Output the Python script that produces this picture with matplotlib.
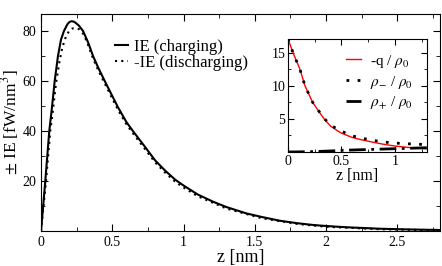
import numpy as np
import matplotlib.pyplot as plt
from matplotlib.ticker import MultipleLocator

plt.rcParams['font.family'] = ['Liberation Serif', 'DejaVu Serif']
plt.rcParams['mathtext.fontset'] = 'stix'

# main panel: interaction energy vs z
z_charge = [0, 0.03, 0.058, 0.075, 0.096, 0.119, 0.14, 0.161, 0.185, 0.2, 0.213, 0.227, 0.24,
            0.265, 0.295, 0.33, 0.365, 0.4, 0.447, 0.5, 0.54, 0.6, 0.65, 0.729, 0.8, 0.87,
            0.94, 1.0, 1.1, 1.208, 1.3, 1.443, 1.55, 1.676, 1.8, 1.91, 2.0, 2.14, 2.38,
            2.6, 2.8]
ie_charge = [0, 20, 40, 48.5, 60, 70, 76.5, 80, 82.7, 83.6, 83.9, 83.8, 83.4,
             82.2, 80, 75.5, 70, 65.5, 60, 54, 49.5, 43.5, 39.6, 33.7, 28.3, 24.2,
             20.6, 18.2, 14.6, 11.7, 9.6, 7.0, 5.6, 4.1, 3.1, 2.4, 2.0, 1.5, 0.9,
             0.6, 0.4]
z_dis = [0, 0.035, 0.065, 0.083, 0.105, 0.13, 0.15, 0.175, 0.2, 0.22, 0.24, 0.255, 0.27,
         0.3, 0.33, 0.365, 0.4, 0.447, 0.5, 0.54, 0.6, 0.65, 0.729, 0.8, 0.87, 0.94, 1.0,
         1.1, 1.3, 1.55, 1.8, 2.0, 2.38, 2.8]
ie_dis = [0, 20, 40, 48, 59, 68, 73.5, 77.8, 80.3, 81.0, 81.2, 81.0, 80.6,
          78.6, 74.5, 69, 64.5, 59, 53, 48.5, 42.6, 38.7, 32.8, 27.5, 23.4, 19.8, 17.4,
          13.9, 9.0, 5.1, 2.8, 1.7, 0.7, 0.25]

# inset: densities
z_in = [0, 0.05, 0.112, 0.159, 0.231, 0.29, 0.34, 0.4, 0.464, 0.5, 0.6, 0.7, 0.8,
        0.9, 1.0, 1.15, 1.3]
q_rel = [17.1, 14.9, 12.5, 10.0, 7.5, 6.1, 4.95, 3.9, 3.2, 2.85, 2.2, 1.8, 1.46,
         1.15, 0.9, 0.65, 0.47]
rho_minus = [17.1, 14.9, 12.5, 10.0, 7.5, 6.15, 5.05, 4.05, 3.45, 3.15, 2.45, 2.05, 1.75,
             1.5, 1.35, 1.22, 1.12]
rho_plus = [0.0, 0.01, 0.02, 0.04, 0.06, 0.09, 0.12, 0.16, 0.21, 0.25, 0.3, 0.35, 0.4,
            0.45, 0.5, 0.57, 0.65]

fig = plt.figure(figsize=(4.42, 2.66), dpi=100)
ax = fig.add_axes([0.0928, 0.1316, 0.9027, 0.8158])

ax.plot(z_charge, ie_charge, color='k', lw=1.5, label='IE (charging)')
ax.plot(z_dis, ie_dis, color='k', lw=1.5, ls=(0, (1, 2)), label='-IE (discharging)')
ax.set_xlim(0, 2.8)
ax.set_ylim(0, 86.8)
ax.set_xticks([0, 0.5, 1, 1.5, 2, 2.5])
ax.set_xticklabels(['0', '0.5', '1', '1.5', '2', '2.5'])
ax.set_yticks([20, 40, 60, 80])
ax.xaxis.set_minor_locator(MultipleLocator(0.25))
ax.yaxis.set_minor_locator(MultipleLocator(10))
ax.tick_params(which='both', direction='in', top=True, right=True, labelsize=10)
ax.tick_params(which='major', length=5)
ax.tick_params(which='minor', length=3)
ax.set_xlabel('z [nm]', fontsize=13, labelpad=0)
ax.set_ylabel(r'$\pm$ IE [fW/nm$^3$]', fontsize=12.5, labelpad=1)
ax.legend(loc='upper left', bbox_to_anchor=(0.165, 0.925), frameon=False, fontsize=12,
          handlelength=0.75, handletextpad=0.35, labelspacing=0.0, borderpad=0)

ins = fig.add_axes([0.6516, 0.4286, 0.3145, 0.4248])
ins.plot(z_in, q_rel, color='red', lw=1, label=r'-q / $\rho_0$')
ins.plot(z_in, rho_minus, color='k', lw=2, ls=(0, (1, 3)), label=r'$\rho_{-}$ / $\rho_0$')
ins.plot(z_in, rho_plus, color='k', lw=2, ls=(0, (6, 2, 1, 2)), label=r'$\rho_{+}$ / $\rho_0$')
ins.set_xlim(0, 1.3)
ins.set_ylim(0, 17.1)
ins.set_xticks([0, 0.5, 1])
ins.set_xticklabels(['0', '0.5', '1'])
ins.set_yticks([5, 10, 15])
ins.xaxis.set_minor_locator(MultipleLocator(0.25))
ins.yaxis.set_minor_locator(MultipleLocator(2.5))
ins.tick_params(which='both', direction='in', top=True, right=True, labelsize=10, pad=2)
ins.tick_params(which='major', length=4)
ins.tick_params(which='minor', length=2)
ins.set_xlabel('z [nm]', fontsize=11.5, labelpad=0)
ins.legend(loc='upper right', frameon=False, fontsize=11, handlelength=1.0,
           handletextpad=0.6, labelspacing=0.25, borderaxespad=0.5)

fig.savefig('out.png', dpi=100)
